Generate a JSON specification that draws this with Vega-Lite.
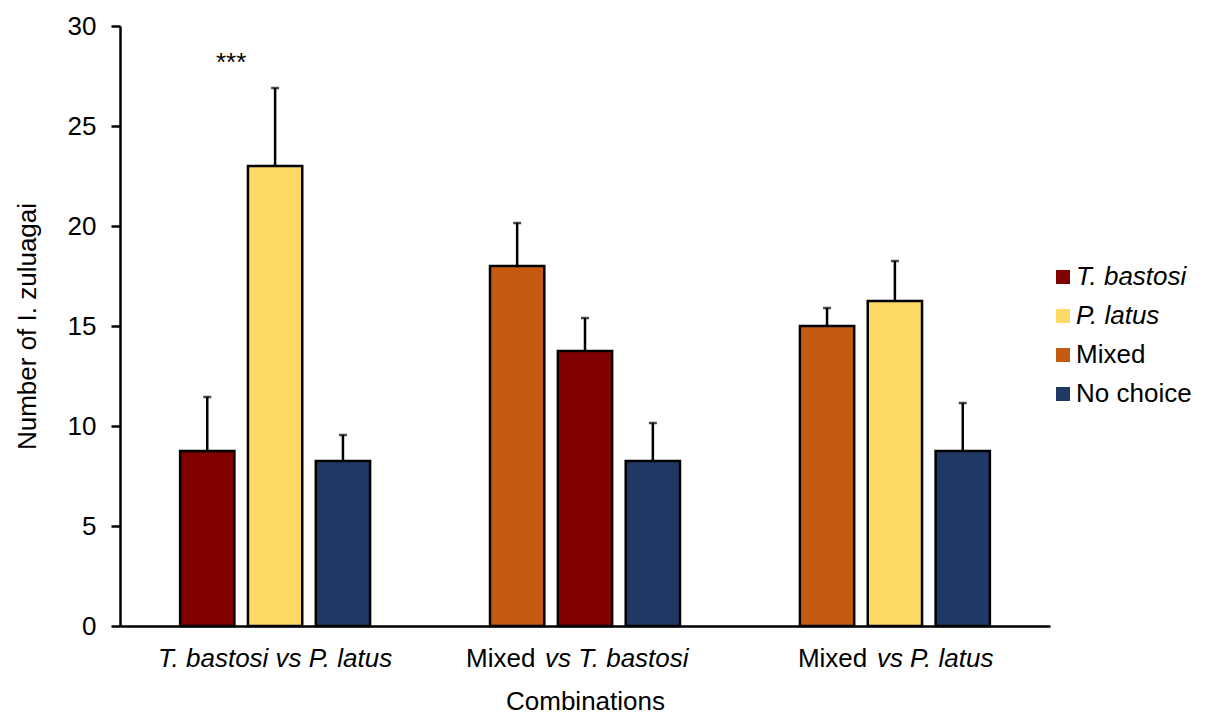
{
  "$schema": "https://vega.github.io/schema/vega-lite/v6.json",
  "width": 930,
  "height": 600,
  "autosize": "none",
  "padding": {"left": 120, "top": 26, "right": 155, "bottom": 89},
  "background": "white",
  "config": {"font": "Liberation Sans", "view": {"stroke": null}},
  "datasets": {
    "bars": [
      {"group": "T. bastosi vs P. latus", "slot": "1", "species": "T. bastosi", "value": 8.75, "upper": 11.45},
      {"group": "T. bastosi vs P. latus", "slot": "2", "species": "P. latus", "value": 23.0, "upper": 26.9},
      {"group": "T. bastosi vs P. latus", "slot": "3", "species": "No choice", "value": 8.25, "upper": 9.55},
      {"group": "Mixed vs T. bastosi", "slot": "1", "species": "Mixed", "value": 18.0, "upper": 20.15},
      {"group": "Mixed vs T. bastosi", "slot": "2", "species": "T. bastosi", "value": 13.75, "upper": 15.4},
      {"group": "Mixed vs T. bastosi", "slot": "3", "species": "No choice", "value": 8.25, "upper": 10.15},
      {"group": "Mixed vs P. latus", "slot": "1", "species": "Mixed", "value": 15.0, "upper": 15.9},
      {"group": "Mixed vs P. latus", "slot": "2", "species": "P. latus", "value": 16.25, "upper": 18.25},
      {"group": "Mixed vs P. latus", "slot": "3", "species": "No choice", "value": 8.75, "upper": 11.15}
    ],
    "labels": [
      {"group": "T. bastosi vs P. latus", "part": "all", "text": "T. bastosi vs P. latus"},
      {"group": "Mixed vs T. bastosi", "part": "plain", "text": "Mixed"},
      {"group": "Mixed vs T. bastosi", "part": "ital", "text": "vs T. bastosi"},
      {"group": "Mixed vs P. latus", "part": "plain", "text": "Mixed"},
      {"group": "Mixed vs P. latus", "part": "ital", "text": "vs P. latus"}
    ],
    "stars": [
      {"group": "T. bastosi vs P. latus", "y": 27.75, "text": "***"}
    ]
  },
  "encoding": {
    "x": {
      "field": "group",
      "type": "nominal",
      "scale": {
        "domain": ["T. bastosi vs P. latus", "Mixed vs T. bastosi", "Mixed vs P. latus"],
        "paddingInner": 0.387,
        "paddingOuter": 0.194
      },
      "axis": {
        "title": "Combinations",
        "labels": false,
        "ticks": false,
        "domainColor": "black",
        "domainWidth": 2.5,
        "titleFontSize": 26,
        "titleFontWeight": "normal",
        "titleColor": "black",
        "titlePadding": 62
      }
    }
  },
  "layer": [
    {
      "data": {"name": "bars"},
      "mark": {"type": "bar", "stroke": "black", "strokeWidth": 2.5},
      "encoding": {
        "xOffset": {"field": "slot", "type": "nominal", "scale": {"paddingInner": 0.2, "paddingOuter": 0}},
        "y": {
          "field": "value",
          "type": "quantitative",
          "scale": {"domain": [0, 30], "nice": false},
          "axis": {
            "title": "Number of I. zuluagai",
            "values": [0, 5, 10, 15, 20, 25, 30],
            "grid": false,
            "domainColor": "black",
            "domainWidth": 2.5,
            "tickColor": "black",
            "tickWidth": 2.5,
            "tickSize": 9,
            "labelFontSize": 26,
            "labelColor": "black",
            "labelPadding": 15,
            "titleFontSize": 26,
            "titleFontWeight": "normal",
            "titleColor": "black",
            "titlePadding": 27
          }
        },
        "color": {
          "field": "species",
          "type": "nominal",
          "scale": {
            "domain": ["T. bastosi", "P. latus", "Mixed", "No choice"],
            "range": ["#800000", "#FFD966", "#C55A11", "#203864"]
          },
          "legend": {
            "title": null,
            "orient": "none",
            "legendX": 930,
            "legendY": 238,
            "symbolType": "square",
            "symbolSize": 196,
            "symbolStrokeWidth": 0,
            "symbolFillColor": {"expr": "datum.label === 'T. bastosi' ? '#C00000' : scale('color', datum.value)"},
            "labelFontSize": 26,
            "labelColor": "black",
            "labelFontStyle": {"expr": "(datum.label === 'T. bastosi' || datum.label === 'P. latus') ? 'italic' : 'normal'"},
            "labelOffset": 0,
            "rowPadding": 13
          }
        }
      }
    },
    {
      "data": {"name": "bars"},
      "mark": {"type": "rule", "color": "black", "strokeWidth": 2.5},
      "encoding": {
        "xOffset": {"field": "slot", "type": "nominal"},
        "y": {"field": "value", "type": "quantitative"},
        "y2": {"field": "upper"}
      }
    },
    {
      "data": {"name": "bars"},
      "mark": {"type": "tick", "color": "black", "thickness": 2.5, "size": 8},
      "encoding": {
        "xOffset": {"field": "slot", "type": "nominal"},
        "y": {"field": "upper", "type": "quantitative"}
      }
    },
    {
      "data": {"name": "stars"},
      "mark": {"type": "text", "fontSize": 26, "color": "black", "dx": -44, "baseline": "alphabetic"},
      "encoding": {
        "y": {"field": "y", "type": "quantitative"},
        "text": {"field": "text"}
      }
    },
    {
      "data": {"name": "labels"},
      "transform": [{"filter": "datum.part === 'all'"}],
      "mark": {"type": "text", "fontSize": 26, "fontStyle": "italic", "color": "black", "align": "center", "baseline": "alphabetic", "dy": 41},
      "encoding": {
        "y": {"datum": 0, "type": "quantitative"},
        "text": {"field": "text"}
      }
    },
    {
      "data": {"name": "labels"},
      "transform": [{"filter": "datum.part === 'plain' && datum.group === 'Mixed vs T. bastosi'"}],
      "mark": {"type": "text", "fontSize": 26, "color": "black", "align": "left", "baseline": "alphabetic", "dy": 41, "dx": -119},
      "encoding": {
        "y": {"datum": 0, "type": "quantitative"},
        "text": {"field": "text"}
      }
    },
    {
      "data": {"name": "labels"},
      "transform": [{"filter": "datum.part === 'ital' && datum.group === 'Mixed vs T. bastosi'"}],
      "mark": {"type": "text", "fontSize": 26, "fontStyle": "italic", "color": "black", "align": "left", "baseline": "alphabetic", "dy": 41, "dx": -40},
      "encoding": {
        "y": {"datum": 0, "type": "quantitative"},
        "text": {"field": "text"}
      }
    },
    {
      "data": {"name": "labels"},
      "transform": [{"filter": "datum.part === 'plain' && datum.group === 'Mixed vs P. latus'"}],
      "mark": {"type": "text", "fontSize": 26, "color": "black", "align": "left", "baseline": "alphabetic", "dy": 41, "dx": -97},
      "encoding": {
        "y": {"datum": 0, "type": "quantitative"},
        "text": {"field": "text"}
      }
    },
    {
      "data": {"name": "labels"},
      "transform": [{"filter": "datum.part === 'ital' && datum.group === 'Mixed vs P. latus'"}],
      "mark": {"type": "text", "fontSize": 26, "fontStyle": "italic", "color": "black", "align": "left", "baseline": "alphabetic", "dy": 41, "dx": -18},
      "encoding": {
        "y": {"datum": 0, "type": "quantitative"},
        "text": {"field": "text"}
      }
    }
  ]
}
